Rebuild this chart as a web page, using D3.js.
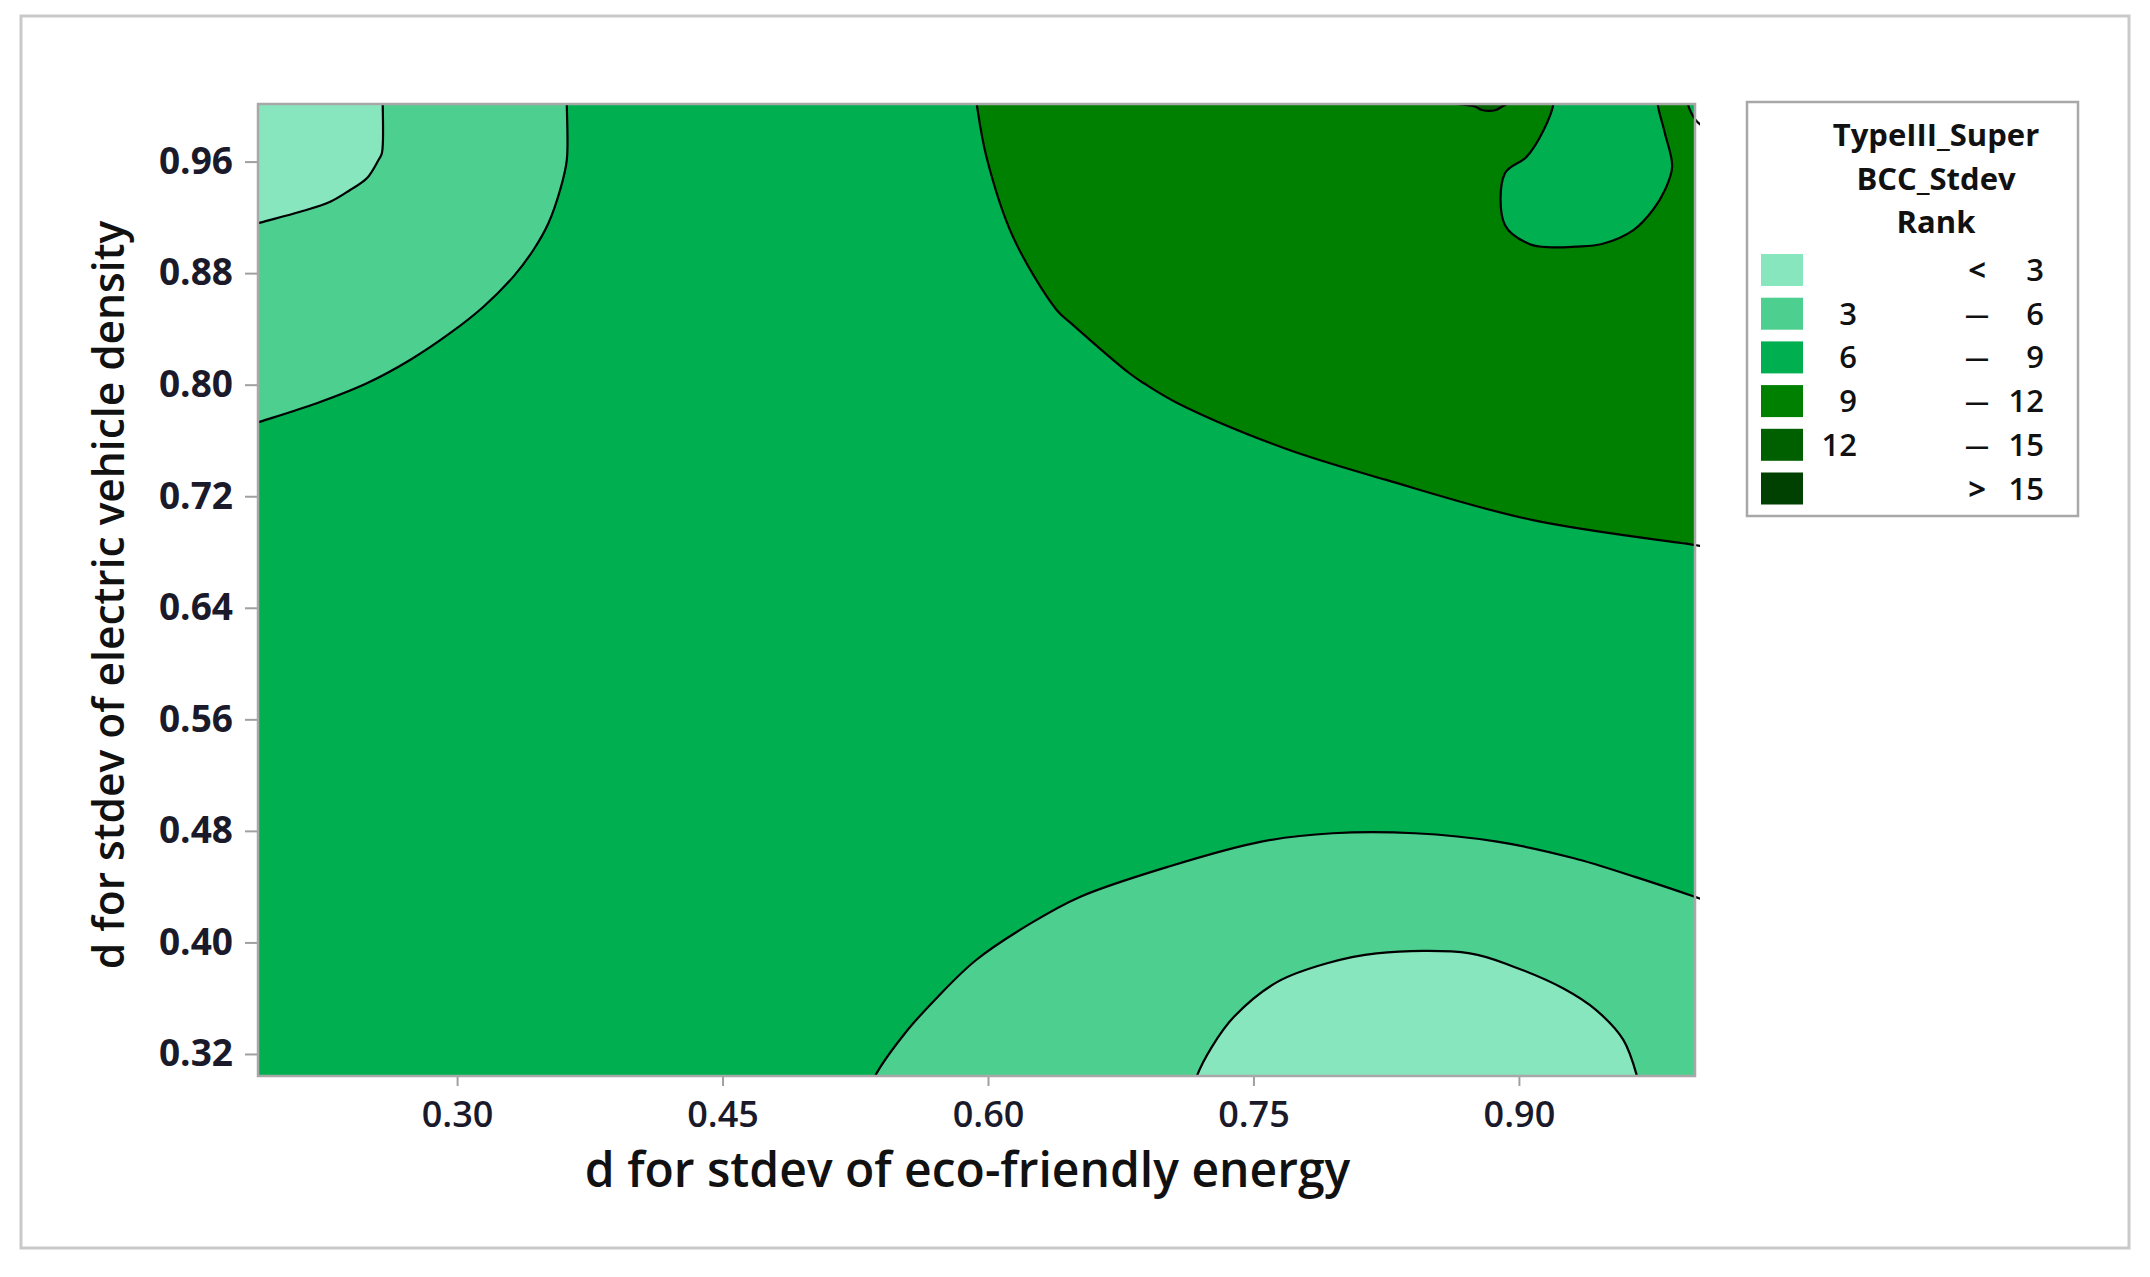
<!DOCTYPE html>
<html><head><meta charset="utf-8">
<script src="https://cdn.jsdelivr.net/npm/d3@7"></script>
<style>
html,body{margin:0;padding:0;background:#fff;}
svg{display:block;}
</style>
</head><body>
<svg id="chart" width="2150" height="1277"></svg>
<script>
// ---------- data ----------
const xTicks = [0.30, 0.45, 0.60, 0.75, 0.90];
const yTicks = [0.32, 0.40, 0.48, 0.56, 0.64, 0.72, 0.80, 0.88, 0.96];
const xDomain = [0.1875, 0.9995];
const yDomain = [0.3042, 1.0013];
const xTitle = "d for stdev of eco-friendly energy";
const yTitle = "d for stdev of electric vehicle density";

const legendTitle = ["TypeIII_Super", "BCC_Stdev", "Rank"];
const legendLow  = ["", "3", "6", "9", "12", ""];
const legendSym  = ["<", "\u2014", "\u2014", "\u2014", "\u2014", ">"];
const legendHigh = ["3", "6", "9", "12", "15", "15"];
const bandColors = ["#88e6be", "#4ccf8f", "#00b050", "#008000", "#006000", "#004000"];

// contour boundaries (x, y)
const lineTL3 = [[0.258,1.012],[0.258,1.0013],[0.2575,0.966],[0.2555,0.961],[0.249,0.948],[0.2395,0.9396],[0.2283,0.9312],[0.2113,0.924],[0.1887,0.9162],[0.180,0.913]];
const lineTL6 = [[0.362,1.012],[0.362,1.0013],[0.362,0.9612],[0.3582,0.9396],[0.3516,0.9158],[0.3431,0.8966],[0.3318,0.8775],[0.3149,0.8559],[0.296,0.8369],[0.2734,0.8177],[0.249,0.801],[0.2207,0.7867],[0.1887,0.7735],[0.180,0.770]];
const lineTR9 = [[0.5925,1.012],[0.5936,1.0013],[0.5991,0.9635],[0.6141,0.9061],[0.6388,0.8536],[0.647,0.844],[0.6799,0.8082],[0.6881,0.801],[0.7072,0.7867],[0.7675,0.7544],[0.825,0.7317],[0.9072,0.703],[0.9989,0.6851],[1.010,0.683]];
const lineIsland = [[0.9195,1.012],[0.9195,1.0013],[0.914,0.9827],[0.9044,0.9635],[0.8921,0.9516],[0.8921,0.9145],[0.9058,0.9009],[0.9181,0.8985],[0.9318,0.899],[0.9469,0.9009],[0.9647,0.9109],[0.9757,0.9253],[0.9825,0.9396],[0.9866,0.9563],[0.9825,0.9803],[0.9784,1.0013],[0.9784,1.012]];
const lineBlip = [[0.8638,1.0013],[0.8750,0.9995],[0.8790,0.9970],[0.8870,0.9970],[0.8905,0.9995],[0.8932,1.0013]];
const lineCorner = [[0.9955,1.012],[0.9955,1.0013],[0.9995,0.9905],[1.003,0.986]];
const lineB6 = [[0.534,0.296],[0.536,0.3037],[0.5531,0.3349],[0.5717,0.3611],[0.5933,0.3874],[0.6243,0.4138],[0.6522,0.4328],[0.7018,0.4543],[0.7545,0.4723],[0.7947,0.4783],[0.8412,0.4783],[0.8877,0.4723],[0.9311,0.4604],[0.9652,0.4472],[0.9993,0.4328],[1.010,0.428]];
const lineB3 = [[0.7165,0.296],[0.7179,0.3037],[0.7266,0.3253],[0.739,0.3467],[0.7638,0.3719],[0.7916,0.3851],[0.8195,0.3922],[0.8723,0.3922],[0.897,0.3826],[0.9249,0.3671],[0.9435,0.3516],[0.959,0.3301],[0.9668,0.3037],[0.968,0.296]];

// ---------- layout ----------
const P = {left: 258, right: 1695, top: 104, bottom: 1076};
const svg = d3.select("#chart");
const FONT = "'Open Sans', 'Noto Sans', sans-serif";

const x = d3.scaleLinear().domain(xDomain).range([P.left, P.right]);
const y = d3.scaleLinear().domain(yDomain).range([P.bottom, P.top]);

// outer figure border
svg.append("rect").attr("x", 21).attr("y", 16).attr("width", 2108).attr("height", 1232)
  .attr("fill", "#fff").attr("stroke", "#c9c9c9").attr("stroke-width", 3);

const defs = svg.append("defs");
defs.append("clipPath").attr("id", "clipFill").append("rect")
  .attr("x", P.left).attr("y", P.top).attr("width", P.right - P.left).attr("height", P.bottom - P.top);
defs.append("clipPath").attr("id", "clipLine").append("rect")
  .attr("x", P.left).attr("y", P.top).attr("width", P.right - P.left + 5).attr("height", P.bottom - P.top);

const curve = d3.line().x(d => x(d[0])).y(d => y(d[1])).curve(d3.curveCatmullRom.alpha(0.5));
const fillPath = (pts, corners) => curve(pts) + corners.map(c => "L" + x(c[0]) + "," + y(c[1])).join("") + "Z";

const gFill = svg.append("g").attr("clip-path", "url(#clipFill)");
// base band 6-9
gFill.append("rect").attr("x", P.left).attr("y", P.top).attr("width", P.right - P.left).attr("height", P.bottom - P.top)
  .attr("fill", bandColors[2]);

const regions = [
  {pts: lineTL6, corners: [[0.17, 1.02]], c: 1},
  {pts: lineTL3, corners: [[0.17, 1.02]], c: 0},
  {pts: lineB6, corners: [[1.02, 0.29], [0.53, 0.29]], c: 1},
  {pts: lineB3, corners: [], c: 0},
  {pts: lineTR9, corners: [[1.02, 1.02], [0.59, 1.02]], c: 3},
  {pts: lineIsland, corners: [], c: 2},
  {pts: lineBlip, corners: [[0.8932, 1.02], [0.8638, 1.02]], c: 4},
  {pts: lineCorner, corners: [[1.02, 0.986], [1.02, 1.02]], c: 2}
];
gFill.selectAll("path.band").data(regions).join("path").attr("class", "band")
  .attr("d", d => fillPath(d.pts, d.corners))
  .attr("fill", d => bandColors[d.c]);

const gLine = svg.append("g").attr("clip-path", "url(#clipLine)");
gLine.selectAll("path.cl").data([lineTL3, lineTL6, lineTR9, lineIsland, lineBlip, lineCorner, lineB6, lineB3])
  .join("path").attr("class", "cl")
  .attr("d", d => curve(d)).attr("fill", "none").attr("stroke", "#000").attr("stroke-width", 2.2);

// frame
svg.append("rect").attr("x", P.left).attr("y", P.top).attr("width", P.right - P.left).attr("height", P.bottom - P.top)
  .attr("fill", "none").attr("stroke", "#a8a8a8").attr("stroke-width", 2.5);

// axes
const fmt = d3.format(".2f");
const yAxis = svg.append("g").attr("transform", `translate(${P.left - 1},0)`)
  .call(d3.axisLeft(y).tickValues(yTicks).tickFormat(fmt).tickSize(12).tickPadding(12));
const xAxis = svg.append("g").attr("transform", `translate(0,${P.bottom + 1})`)
  .call(d3.axisBottom(x).tickValues(xTicks).tickFormat(fmt).tickSize(9).tickPadding(15));
[xAxis, yAxis].forEach(a => {
  a.select(".domain").remove();
  a.selectAll(".tick line").attr("stroke", "#a0a0a0").attr("stroke-width", 2);
  a.selectAll(".tick text").attr("fill", "#1a1a2a").style("font-family", FONT)
    .style("font-size", "36px").style("font-weight", 600);
});
yAxis.selectAll(".tick text").style("font-size", "37px").style("font-weight", 700);

// axis titles
svg.append("text").attr("x", (P.left + P.right) / 2 - 9).attr("y", 1187)
  .attr("text-anchor", "middle").style("font-family", FONT).style("font-size", "48px").style("font-weight", 600)
  .attr("fill", "#111").text(xTitle);
svg.append("text").attr("transform", `translate(124,${(P.top + P.bottom) / 2 + 5}) rotate(-90)`)
  .attr("text-anchor", "middle").style("font-family", FONT).style("font-size", "42.5px").style("font-weight", 600)
  .attr("fill", "#111").text(yTitle);

// legend
const L = {x: 1747, y: 102, w: 331, h: 414};
svg.append("rect").attr("x", L.x).attr("y", L.y).attr("width", L.w).attr("height", L.h)
  .attr("fill", "#fff").attr("stroke", "#a8a8a8").attr("stroke-width", 2.5);
svg.append("g").selectAll("text").data(legendTitle).join("text")
  .attr("x", 1936).attr("y", (d, i) => 146 + i * 43.5)
  .attr("text-anchor", "middle").style("font-family", FONT).style("font-size", "31px").style("font-weight", 700)
  .attr("fill", "#111").text(d => d);

const rowY = i => 270 + i * 43.7;
const lg = svg.append("g").selectAll("g").data(bandColors).join("g");
lg.append("rect").attr("x", 1761).attr("y", (d, i) => rowY(i) - 16).attr("width", 42).attr("height", 32)
  .attr("fill", d => d);
lg.append("text").attr("x", 1857).attr("y", (d, i) => rowY(i) + 11).attr("text-anchor", "end")
  .style("font-family", FONT).style("font-size", "31px").style("font-weight", 600).attr("fill", "#111")
  .text((d, i) => legendLow[i]);
lg.append("text").attr("x", 1977).attr("y", (d, i) => rowY(i) + (i === 0 || i === 5 ? 11 : 9)).attr("text-anchor", "middle")
  .style("font-family", FONT).style("font-size", (d, i) => (i === 0 || i === 5 ? "31px" : "24px"))
  .style("font-weight", 700).attr("fill", "#111")
  .text((d, i) => legendSym[i]);
lg.append("text").attr("x", 2044).attr("y", (d, i) => rowY(i) + 11).attr("text-anchor", "end")
  .style("font-family", FONT).style("font-size", "31px").style("font-weight", 600).attr("fill", "#111")
  .text((d, i) => legendHigh[i]);
</script>
</body></html>
